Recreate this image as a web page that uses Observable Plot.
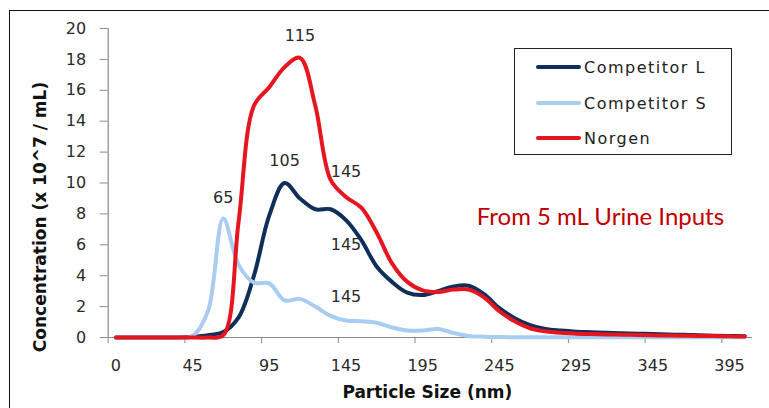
<!DOCTYPE html>
<html>
<head>
<meta charset="utf-8">
<script src="https://cdn.jsdelivr.net/npm/d3@7"></script>
<script src="https://cdn.jsdelivr.net/npm/@observablehq/plot@0.6"></script>
<style>
  html, body { margin: 0; padding: 0; background: #fff; overflow: hidden; width: 769px; height: 408px; }
  #wrap { position: relative; width: 769px; height: 408px; }
  #border { position: absolute; left: 9px; top: 10px; width: 800px; height: 500px; border: 1.5px solid #111; box-sizing: border-box; }
  #chart { position: absolute; left: 0; top: 0; }
  #legend { position: absolute; left: 514px; top: 48px; width: 218px; height: 107px; border: 1.5px solid #222; box-sizing: border-box; background: #fff;
    font-family: "DejaVu Sans", sans-serif; font-size: 16px; letter-spacing: 1.5px; color: #222; }
  .row { position: absolute; left: 21px; display: flex; align-items: center; height: 20px; }
  .sw { width: 45px; height: 4px; margin-right: 3px; border-radius: 2px; }
</style>
</head>
<body>
<div id="wrap">
  <div id="border"></div>
  <div id="chart"></div>
  <div id="legend"></div>
</div>
<script>
// Category labels (particle size bins, nm)
const sizes = [0, 5, 15, 25, 35, 45, 55, 65, 75, 85, 95, 105, 115, 125, 135, 145, 155, 165, 175, 185,
  195, 205, 215, 225, 235, 245, 255, 265, 275, 285, 295, 305, 315, 325, 335, 345, 355, 365, 375, 385, 395, 405];

// Concentration (x 10^7 / mL)
const competitorL = [0, 0, 0, 0, 0, 0.05, 0.15, 0.35, 1.3, 4.0, 7.9, 10.0, 9.0, 8.3, 8.3, 7.6, 6.3, 4.6, 3.6, 2.9,
  2.75, 3.0, 3.3, 3.35, 2.8, 1.9, 1.25, 0.8, 0.55, 0.45, 0.38, 0.34, 0.3, 0.27, 0.25, 0.22, 0.2, 0.17, 0.15, 0.12, 0.1, 0.08];
const competitorS = [0, 0, 0, 0, 0, 0.1, 1.7, 7.7, 4.7, 3.55, 3.5, 2.4, 2.5, 2.0, 1.4, 1.1, 1.05, 0.95, 0.65, 0.45,
  0.45, 0.55, 0.3, 0.1, 0.05, 0.03, 0.02, 0.02, 0.02, 0.02, 0.02, 0.02, 0.02, 0.02, 0.02, 0.02, 0.02, 0.02, 0.02, 0.02, 0.02, 0.02];
const norgen = [0, 0, 0, 0, 0, 0, 0, 0.15, 7.5, 15.0, 16.2, 17.5, 18.1, 15.0, 10.2, 9.1, 8.4, 6.8, 4.8, 3.6,
  3.05, 2.95, 3.1, 3.1, 2.6, 1.7, 1.05, 0.6, 0.4, 0.3, 0.25, 0.22, 0.2, 0.18, 0.16, 0.14, 0.13, 0.12, 0.1, 0.09, 0.08, 0.06];

const seriesNames = ["Competitor L", "Competitor S", "Norgen"];
const seriesColors = ["#0f2f5a", "#a8ccf2", "#e5161f"];

// x tick labels shown every 5 categories
const xTickLabels = ["0", "45", "95", "145", "195", "245", "295", "345", "395"];
const yTicks = [0, 2, 4, 6, 8, 10, 12, 14, 16, 18, 20];

// Peak annotations
const annotLabels = ["115", "105", "65", "145", "145", "145"];
const annotSize = [115, 105, 65, 145, 145, 145];
const annotValue = [19.5, 11.45, 9.05, 10.7, 6.0, 2.65];

const titleX = "Particle Size (nm)";
const titleY = "Concentration (x 10^7 / mL)";
const note = "From 5 mL Urine Inputs";
const noteSize = 305;
const noteValue = 7.75;

// Build table
const rows = [];
[competitorL, competitorS, norgen].forEach((vals, s) => {
  vals.forEach((v, i) => rows.push({series: seriesNames[s], i, size: sizes[i], value: v}));
});
const annots = annotLabels.map((t, k) => ({t, i: sizes.indexOf(annotSize[k]), value: annotValue[k]}));
const labelIdx = xTickLabels.map((_, k) => k * 5);
const boundaries = d3.range(-0.5, 40, 5);

const chart = Plot.plot({
  width: 769,
  height: 408,
  marginLeft: 107.7,
  marginRight: 17,
  marginTop: 28,
  marginBottom: 71,
  style: {fontFamily: "DejaVu Sans, sans-serif", fontSize: "16px", color: "#2a2a2a", background: "transparent", overflow: "visible"},
  x: {domain: [-0.5, sizes.length - 0.5]},
  y: {domain: [0, 20]},
  color: {domain: seriesNames, range: seriesColors},
  marks: [
    Plot.ruleY([0], {stroke: "#8a8a8a", strokeWidth: 1.2}),
    Plot.ruleX([-0.5], {y1: 0, y2: 20, stroke: "#8a8a8a", strokeWidth: 1.2}),
    Plot.axisY({ticks: yTicks, tickSize: 8, tickPadding: 14, stroke: "#8a8a8a", label: null, letterSpacing: "1.5px"}),
    Plot.axisX({ticks: boundaries, tickFormat: () => "", tickSize: 6, stroke: "#8a8a8a", label: null}),
    Plot.axisX({ticks: labelIdx, tickFormat: (d) => xTickLabels[d / 5], tickSize: 0, tickPadding: 22, label: null, letterSpacing: "1.5px"}),
    Plot.line(rows, {x: "i", y: "value", z: "series", stroke: "series", strokeWidth: 4, curve: "catmull-rom"}),
    Plot.text(annots, {x: "i", y: "value", text: "t", fontSize: 16, letterSpacing: "1.5px", fill: "#2a2a2a"}),
    Plot.text([note], {x: sizes.indexOf(noteSize), y: noteValue, dx: 9, text: (d) => d, fill: "#c00000", fontSize: 24, fontFamily: "Lato, sans-serif"}),
    Plot.text([titleX], {frameAnchor: "bottom", text: (d) => d, dy: 60, dx: -3, fontWeight: "bold", fontSize: 17, fill: "#111"}),
    Plot.text([titleY], {frameAnchor: "left", textAnchor: "middle", lineAnchor: "middle", text: (d) => d, rotate: -90, dx: -68, dy: 34, fontWeight: "bold", fontSize: 17, fill: "#111"})
  ]
});
document.getElementById("chart").appendChild(chart);

// Legend
const legend = document.getElementById("legend");
const tops = [8, 44, 79];
seriesNames.forEach((name, k) => {
  const row = document.createElement("div");
  row.className = "row";
  row.style.top = tops[k] + "px";
  const sw = document.createElement("div");
  sw.className = "sw";
  sw.style.background = seriesColors[k];
  const label = document.createElement("span");
  label.textContent = name;
  row.appendChild(sw);
  row.appendChild(label);
  legend.appendChild(row);
});
</script>
</body>
</html>
